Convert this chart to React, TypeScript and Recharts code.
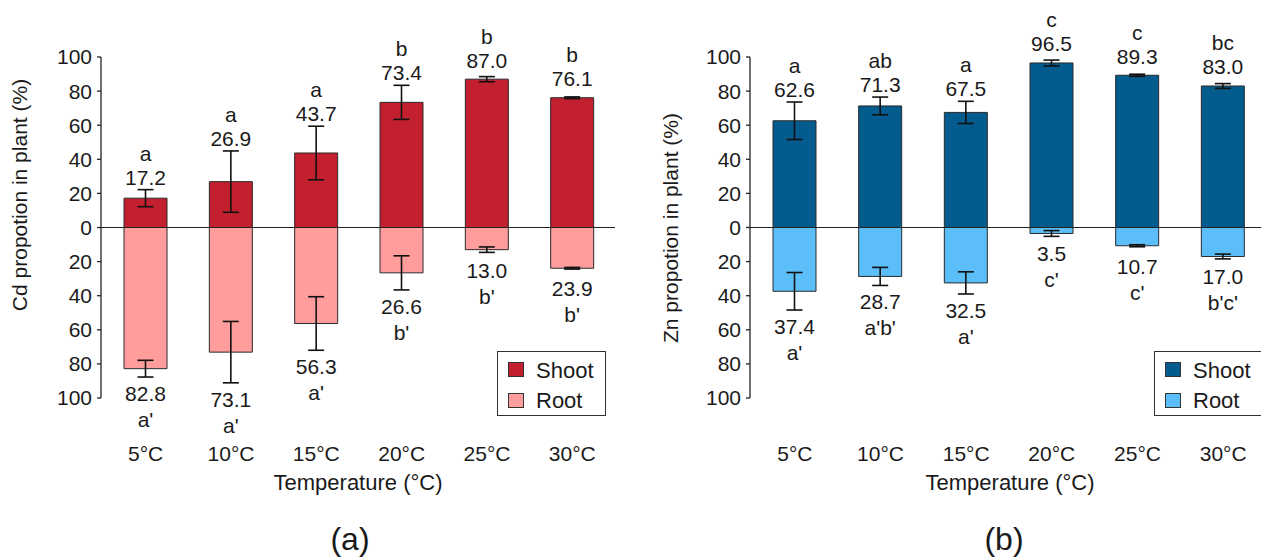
import React from 'react';
import { BarChart, Bar, XAxis, YAxis, ErrorBar, LabelList, ReferenceLine } from 'recharts';

const temps = ['5°C', '10°C', '15°C', '20°C', '25°C', '30°C'];

// panel (a): Cd
const cdShoot = [17.2, 26.9, 43.7, 73.4, 87.0, 76.1];
const cdRoot = [82.8, 73.1, 56.3, 26.6, 13.0, 23.9];
const cdShootErr = [5.0, 18.0, 15.7, 10.0, 1.5, 0.5];
const cdRootErr = [4.9, 18.0, 15.7, 10.0, 1.6, 0.5];
const cdShootSig = ['a', 'a', 'a', 'b', 'b', 'b'];
const cdRootSig = ["a'", "a'", "a'", "b'", "b'", "b'"];

// panel (b): Zn
const znShoot = [62.6, 71.3, 67.5, 96.5, 89.3, 83.0];
const znRoot = [37.4, 28.7, 32.5, 3.5, 10.7, 17.0];
const znShootErr = [11.0, 5.2, 6.5, 1.7, 0.6, 1.4];
const znRootErr = [11.0, 5.3, 6.5, 1.7, 0.6, 1.4];
const znShootSig = ['a', 'ab', 'a', 'c', 'c', 'bc'];
const znRootSig = ["a'", "a'b'", "a'", "c'", "c'", "b'c'"];

const yTicks = [-100, -80, -60, -40, -20, 0, 20, 40, 60, 80, 100];

const FONT = '"Liberation Sans", Arial, sans-serif';
const INK = '#1a1a1a';

// shoot goes up, root goes down (negative)
function buildRows(shoot: number[], root: number[], sErr: number[], rErr: number[]) {
  return temps.map((t, i) => ({
    temp: t,
    shoot: shoot[i],
    root: -root[i],
    shootErr: sErr[i],
    rootErr: rErr[i],
  }));
}

// value + significance letter, placed beyond the error bar end
const makeLabel = (vals: number[], errs: number[], sigs: string[], up: boolean) => (props: any) => {
  const vb = props.viewBox ?? props;
  const { x, y, width, height } = vb;
  const index = props.index;
  if (index == null || x == null) return null;
  const top = Math.min(y, y + height);
  const bottom = Math.max(y, y + height);
  const ppu = (bottom - top) / vals[index];
  const cx = x + width / 2;
  const common = { x: cx, textAnchor: 'middle' as const, fontSize: 21, fontFamily: FONT, fill: INK };
  if (up) {
    const errTop = top - errs[index] * ppu;
    const base = Math.min(errTop - 5, top - 11.5);
    return (
      <g>
        <text {...common} y={base - 24}>{sigs[index]}</text>
        <text {...common} y={base}>{vals[index].toFixed(1)}</text>
      </g>
    );
  }
  const errBottom = bottom + errs[index] * ppu;
  const base = Math.max(errBottom + 24, bottom + 28);
  return (
    <g>
      <text {...common} y={base}>{vals[index].toFixed(1)}</text>
      <text {...common} y={base + 26}>{sigs[index]}</text>
    </g>
  );
};

const CatTick = (props: any) => {
  const { x, y, payload } = props;
  return (
    <text x={x} y={y + 63} textAnchor="middle" fontSize={21} fontFamily={FONT} fill={INK}>
      {payload.value}
    </text>
  );
};

interface PanelProps {
  left: number;
  width: number;
  marginLeft: number;
  marginRight: number;
  shoot: number[];
  root: number[];
  shootErr: number[];
  rootErr: number[];
  shootSig: string[];
  rootSig: string[];
  shootColor: string;
  rootColor: string;
}

function Panel(p: PanelProps) {
  const rows = buildRows(p.shoot, p.root, p.shootErr, p.rootErr);
  return (
    <div style={{ position: 'absolute', left: p.left, top: 0 }}>
      <BarChart
        width={p.width}
        height={558}
        data={rows}
        margin={{ top: 57, right: p.marginRight, bottom: 0, left: p.marginLeft }}
        barSize={43}
        barGap={-43}
      >
        <XAxis
          dataKey="temp"
          height={160}
          axisLine={false}
          tickLine={false}
          tickSize={0}
          tickMargin={0}
          padding={{ left: 2, right: 0 }}
          tick={<CatTick />}
          interval={0}
        />
        <YAxis
          width={61}
          domain={[-100, 100]}
          ticks={yTicks}
          tickFormatter={(v: number) => String(Math.abs(v))}
          axisLine={{ stroke: '#222', strokeWidth: 1.3 }}
          tickLine={{ stroke: '#222', strokeWidth: 1.3 }}
          tickSize={4}
          tickMargin={5}
          tick={{ fontSize: 21, fontFamily: FONT, fill: INK }}
          interval={0}
        />
        <Bar dataKey="shoot" fill={p.shootColor} stroke="#2a2a2a" strokeWidth={1} isAnimationActive={false}>
          <ErrorBar dataKey="shootErr" direction="y" width={8} stroke="#111" strokeWidth={1.6} />
          <LabelList dataKey="shoot" content={makeLabel(p.shoot, p.shootErr, p.shootSig, true)} />
        </Bar>
        <Bar dataKey="root" fill={p.rootColor} stroke="#2a2a2a" strokeWidth={1} isAnimationActive={false}>
          <ErrorBar dataKey="rootErr" direction="y" width={8} stroke="#111" strokeWidth={1.6} />
          <LabelList dataKey="root" content={makeLabel(p.root, p.rootErr, p.rootSig, false)} />
        </Bar>
        <ReferenceLine y={0} stroke="#222" strokeWidth={1.2} />
      </BarChart>
    </div>
  );
}

function LegendBox({ left, width, shootColor, rootColor }: { left: number; width: number; shootColor: string; rootColor: string }) {
  const sw = (top: number, color: string) => (
    <div style={{ position: 'absolute', left: 10, top, width: 16, height: 15, background: color, border: '1px solid #333', boxSizing: 'border-box' }} />
  );
  const txt = (top: number, label: string) => (
    <div style={{ position: 'absolute', left: 38, top, fontSize: 22, lineHeight: 1, fontFamily: FONT, color: INK, whiteSpace: 'nowrap' }}>{label}</div>
  );
  return (
    <div style={{ position: 'absolute', left, top: 351, width, height: 65, border: '1.5px solid #333', boxSizing: 'border-box', background: '#fff' }}>
      {sw(9.5, shootColor)}
      {sw(40.5, rootColor)}
      {txt(7.5, 'Shoot')}
      {txt(37.5, 'Root')}
    </div>
  );
}

const textAt = (cx: number, top: number, size: number, label: string) => (
  <div style={{ position: 'absolute', left: cx, top, transform: 'translateX(-50%)', fontSize: size, lineHeight: 1, fontFamily: FONT, color: INK, whiteSpace: 'nowrap' }}>
    {label}
  </div>
);

const vTitle = (cx: number, cy: number, label: string) => (
  <div style={{ position: 'absolute', left: cx, top: cy, transform: 'translate(-50%, -50%) rotate(-90deg)', fontSize: 21, lineHeight: 1, fontFamily: FONT, color: INK, whiteSpace: 'nowrap' }}>
    {label}
  </div>
);

export default function App() {
  return (
    <div style={{ position: 'absolute', left: 0, top: 0, width: 1261, height: 558, overflow: 'hidden', background: '#fff' }}>
      <Panel
        left={0}
        width={640}
        marginLeft={40}
        marginRight={25}
        shoot={cdShoot}
        root={cdRoot}
        shootErr={cdShootErr}
        rootErr={cdRootErr}
        shootSig={cdShootSig}
        rootSig={cdRootSig}
        shootColor="#C3202F"
        rootColor="#FF9C9C"
      />
      <Panel
        left={640}
        width={630}
        marginLeft={49}
        marginRight={4}
        shoot={znShoot}
        root={znRoot}
        shootErr={znShootErr}
        rootErr={znRootErr}
        shootSig={znShootSig}
        rootSig={znRootSig}
        shootColor="#045B8D"
        rootColor="#5CBEF8"
      />
      {vTitle(19, 195, 'Cd propotion in plant (%)')}
      {vTitle(670, 228, 'Zn propotion in plant (%)')}
      {textAt(358, 472, 22, 'Temperature (°C)')}
      {textAt(1010, 472, 22, 'Temperature (°C)')}
      {textAt(350, 523, 32, '(a)')}
      {textAt(1004, 523, 32, '(b)')}
      <LegendBox left={497} width={109} shootColor="#C3202F" rootColor="#FF9C9C" />
      <LegendBox left={1154} width={115} shootColor="#045B8D" rootColor="#5CBEF8" />
    </div>
  );
}
